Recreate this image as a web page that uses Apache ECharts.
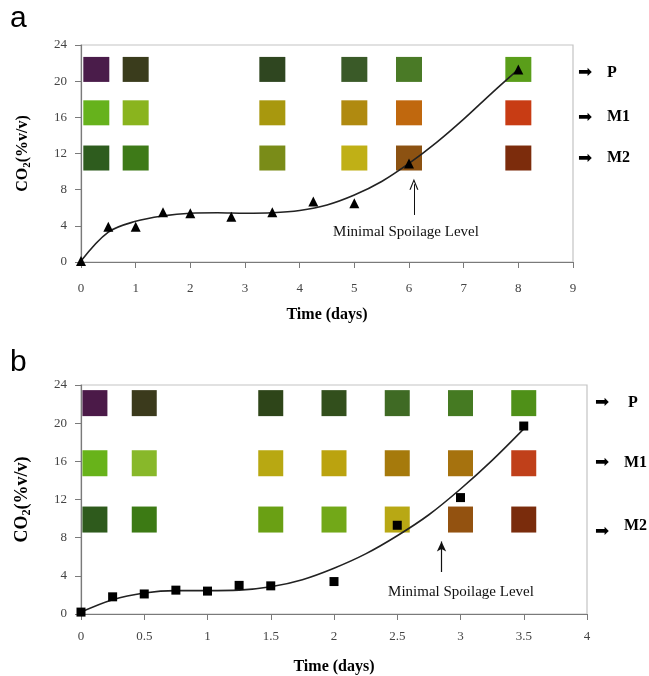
<!DOCTYPE html>
<html>
<head>
<meta charset="utf-8">
<script src="https://cdn.jsdelivr.net/npm/echarts@6/dist/echarts.min.js"></script>
<style>
  html, body { margin: 0; padding: 0; background: #fff; }
  #chart { width: 649px; height: 676px; }
</style>
</head>
<body>
<div id="chart"></div>
<script>
// panel a: measured CO2 (triangles) and fitted trend curve
const daysA = [0, 0.5, 1, 1.5, 2, 2.75, 3.5, 4.25, 5, 6, 8];
const co2A = [0.1, 3.9, 3.9, 5.5, 5.4, 5.0, 5.5, 6.7, 6.5, 10.9, 21.3];
const fitDaysA = [0, 0.5, 1, 1.5, 2, 2.5, 3, 3.5, 4, 4.5, 5, 5.5, 6, 6.5, 7, 7.5, 8];
const fitA = [0.1, 3.3, 4.5, 5.1, 5.4, 5.45, 5.4, 5.45, 5.7, 6.3, 7.4, 8.9, 10.9, 13.2, 15.8, 18.6, 21.3];

// panel b: measured CO2 (squares) and fitted trend curve
const daysB = [0, 0.25, 0.5, 0.75, 1, 1.25, 1.5, 2, 2.5, 3, 3.5];
const co2B = [0.2, 1.8, 2.1, 2.5, 2.4, 3.0, 2.95, 3.4, 9.3, 12.2, 19.7];
const fitDaysB = [0, 0.25, 0.5, 0.75, 1, 1.25, 1.5, 1.75, 2, 2.25, 2.5, 2.75, 3, 3.25, 3.5];
const fitB = [0.2, 1.5, 2.2, 2.45, 2.45, 2.5, 2.85, 3.6, 4.8, 6.3, 8.2, 10.4, 13.1, 16.1, 19.4];

// indicator colour swatches (P, M1, M2 rows)
const rowNames = ['P', 'M1', 'M2'];
const swatchDaysA = [0.28, 1, 3.5, 5, 6, 8];
const rowLevelsA = [21.3, 16.5, 11.5];
const swatchA_P = ['#4a1c4a', '#3a3c1c', '#2f4620', '#3a5a28', '#4a7a26', '#5a9e1a'];
const swatchA_M1 = ['#66b21c', '#8ab41e', '#a8980e', '#b08a10', '#c0680e', '#c83c14'];
const swatchA_M2 = ['#2e5c1e', '#3e7a18', '#7a8c18', '#c0b016', '#8c5212', '#7c2c0c'];

const swatchDaysB = [0.11, 0.5, 1.5, 2, 2.5, 3, 3.5];
const rowLevelsB = [22.1, 15.8, 9.9];
const swatchB_P = ['#4b1a48', '#3b3a1c', '#2e4519', '#324f1c', '#3f6a24', '#457a22', '#4f9018'];
const swatchB_M1 = ['#68b31a', '#88b82a', '#b8a812', '#bba30f', '#a67a0c', '#a6720e', '#c0401a'];
const swatchB_M2 = ['#2e5a1c', '#3c7a14', '#6aa014', '#72a818', '#b8a814', '#935210', '#7a2c0c'];

const serif = "'Liberation Serif', 'Times New Roman', serif";

function swatchData(days, levels, rows) {
  const out = [];
  rows.forEach((colors, r) => {
    days.forEach((d, i) => {
      out.push({ value: [d, levels[r]], itemStyle: { color: colors[i], opacity: 1 } });
    });
  });
  return out;
}

const zip = (xs, ys) => xs.map((x, i) => [x, ys[i]]);

function yAxisFor(gridIndex, nameSize) {
  return {
    gridIndex: gridIndex,
    type: 'value',
    min: 0, max: 24, interval: 4,
    name: 'CO{sub|2}(%v/v)',
    nameLocation: 'middle',
    nameGap: 48,
    nameTextStyle: {
      fontFamily: serif, fontWeight: 'bold', fontSize: nameSize, color: '#000',
      rich: { sub: { fontFamily: serif, fontWeight: 'bold', fontSize: nameSize * 0.68, color: '#000', padding: [nameSize * 0.55, 0, 0, 0] } }
    },
    axisLine: { show: true, lineStyle: { color: '#7a7a7a', width: 1.2 } },
    axisTick: { show: true, length: 6, lineStyle: { color: '#7a7a7a' } },
    axisLabel: { fontFamily: serif, fontSize: 13, color: '#444', margin: 14 },
    splitLine: { show: false }
  };
}

function xAxisFor(gridIndex, max, interval, labelMargin) {
  return {
    gridIndex: gridIndex,
    type: 'value',
    min: 0, max: max, interval: interval,
    name: 'Time (days)',
    nameLocation: 'middle',
    nameGap: 45,
    nameTextStyle: { fontFamily: serif, fontWeight: 'bold', fontSize: 16, color: '#000' },
    axisLine: { show: true, onZero: false, lineStyle: { color: '#7a7a7a', width: 1.2 } },
    axisTick: { show: true, length: 6, lineStyle: { color: '#7a7a7a' } },
    axisLabel: { fontFamily: serif, fontSize: 13, color: '#444', margin: labelMargin },
    splitLine: { show: false }
  };
}

const chart = echarts.init(document.getElementById('chart'));

const rowLabelStyle = { fontFamily: serif, fontWeight: 'bold', fontSize: 16, fill: '#000', textVerticalAlign: 'middle' };
const arrowStyle = { fontFamily: 'DejaVu Sans', fontSize: 17, fill: '#000', textVerticalAlign: 'middle' };

const graphics = [
  { type: 'text', left: 10, top: 4, style: { text: 'a', fontFamily: "'Liberation Sans', Arial, sans-serif", fontSize: 30, fill: '#000' } },
  { type: 'text', left: 10, top: 348, style: { text: 'b', fontFamily: "'Liberation Sans', Arial, sans-serif", fontSize: 30, fill: '#000' } },
  { type: 'text', x: 406, y: 232, style: { text: 'Minimal Spoilage Level', fontFamily: serif, fontSize: 15, fill: '#111', textAlign: 'center', textVerticalAlign: 'middle' } },
  { type: 'text', x: 461, y: 592, style: { text: 'Minimal Spoilage Level', fontFamily: serif, fontSize: 15, fill: '#111', textAlign: 'center', textVerticalAlign: 'middle' } }
];
const rowYA = [72.7, 117.3, 158.3];
const rowYB = [402.7, 462.7, 528.3];
rowNames.forEach((name, i) => {
  graphics.push({ type: 'text', x: 578, y: rowYA[i], style: Object.assign({ text: '➡' }, arrowStyle) });
  graphics.push({ type: 'text', x: 607, y: rowYA[i], style: Object.assign({ text: name }, rowLabelStyle) });
  graphics.push({ type: 'text', x: 595, y: rowYB[i] + (i === 2 ? 3 : 0), style: Object.assign({ text: '➡' }, arrowStyle) });
  graphics.push({ type: 'text', x: name === 'P' ? 628 : 624, y: rowYB[i] - (i === 2 ? 2 : 0), style: Object.assign({ text: name }, rowLabelStyle) });
});

chart.setOption({
  animation: false,
  backgroundColor: '#fff',
  grid: [
    { left: 81, right: 76, top: 45, height: 217, show: true, borderColor: '#c4c4c4', borderWidth: 1.2, backgroundColor: 'transparent' },
    { left: 81, right: 62, top: 385, height: 232, show: true, borderColor: '#c4c4c4', borderWidth: 1.2, backgroundColor: 'transparent' }
  ],
  xAxis: [xAxisFor(0, 9, 1, 20), xAxisFor(1, 4, 0.5, 16)],
  yAxis: [yAxisFor(0, 16), yAxisFor(1, 18)],
  graphic: graphics,
  series: [
    {
      type: 'scatter', xAxisIndex: 0, yAxisIndex: 0, z: 1,
      symbol: 'rect', symbolSize: [26, 25], silent: true,
      data: swatchData(swatchDaysA, rowLevelsA, [swatchA_P, swatchA_M1, swatchA_M2])
    },
    {
      type: 'line', xAxisIndex: 0, yAxisIndex: 0, z: 3,
      smooth: 0.35, showSymbol: false,
      lineStyle: { color: '#222', width: 1.6 },
      data: zip(fitDaysA, fitA),
      markLine: {
        silent: true, animation: false,
        symbol: ['none', 'path://M5,0 L10,10 L8.6,10 L5,2.6 L1.4,10 L0,10 Z'],
        symbolSize: [9, 11],
        lineStyle: { color: '#111', width: 1, type: 'solid' },
        label: { show: false },
        data: [[{ coord: [6.09, 5.2] }, { coord: [6.09, 8.6] }]]
      }
    },
    {
      type: 'scatter', xAxisIndex: 0, yAxisIndex: 0, z: 4,
      symbol: 'triangle', symbolSize: 10,
      itemStyle: { color: '#000', opacity: 1 },
      data: zip(daysA, co2A)
    },
    {
      type: 'scatter', xAxisIndex: 1, yAxisIndex: 1, z: 1,
      symbol: 'rect', symbolSize: [25, 26], silent: true,
      data: swatchData(swatchDaysB, rowLevelsB, [swatchB_P, swatchB_M1, swatchB_M2])
    },
    {
      type: 'line', xAxisIndex: 1, yAxisIndex: 1, z: 3,
      smooth: 0.35, showSymbol: false,
      lineStyle: { color: '#222', width: 1.6 },
      data: zip(fitDaysB, fitB),
      markLine: {
        silent: true, animation: false,
        symbol: ['none', 'arrow'],
        symbolSize: [7, 10],
        lineStyle: { color: '#111', width: 1.2, type: 'solid' },
        label: { show: false },
        data: [[{ coord: [2.85, 4.4] }, { coord: [2.85, 7.6] }]]
      }
    },
    {
      type: 'scatter', xAxisIndex: 1, yAxisIndex: 1, z: 4,
      symbol: 'rect', symbolSize: 9,
      itemStyle: { color: '#000', opacity: 1 },
      data: zip(daysB, co2B)
    }
  ]
});
</script>
</body>
</html>
